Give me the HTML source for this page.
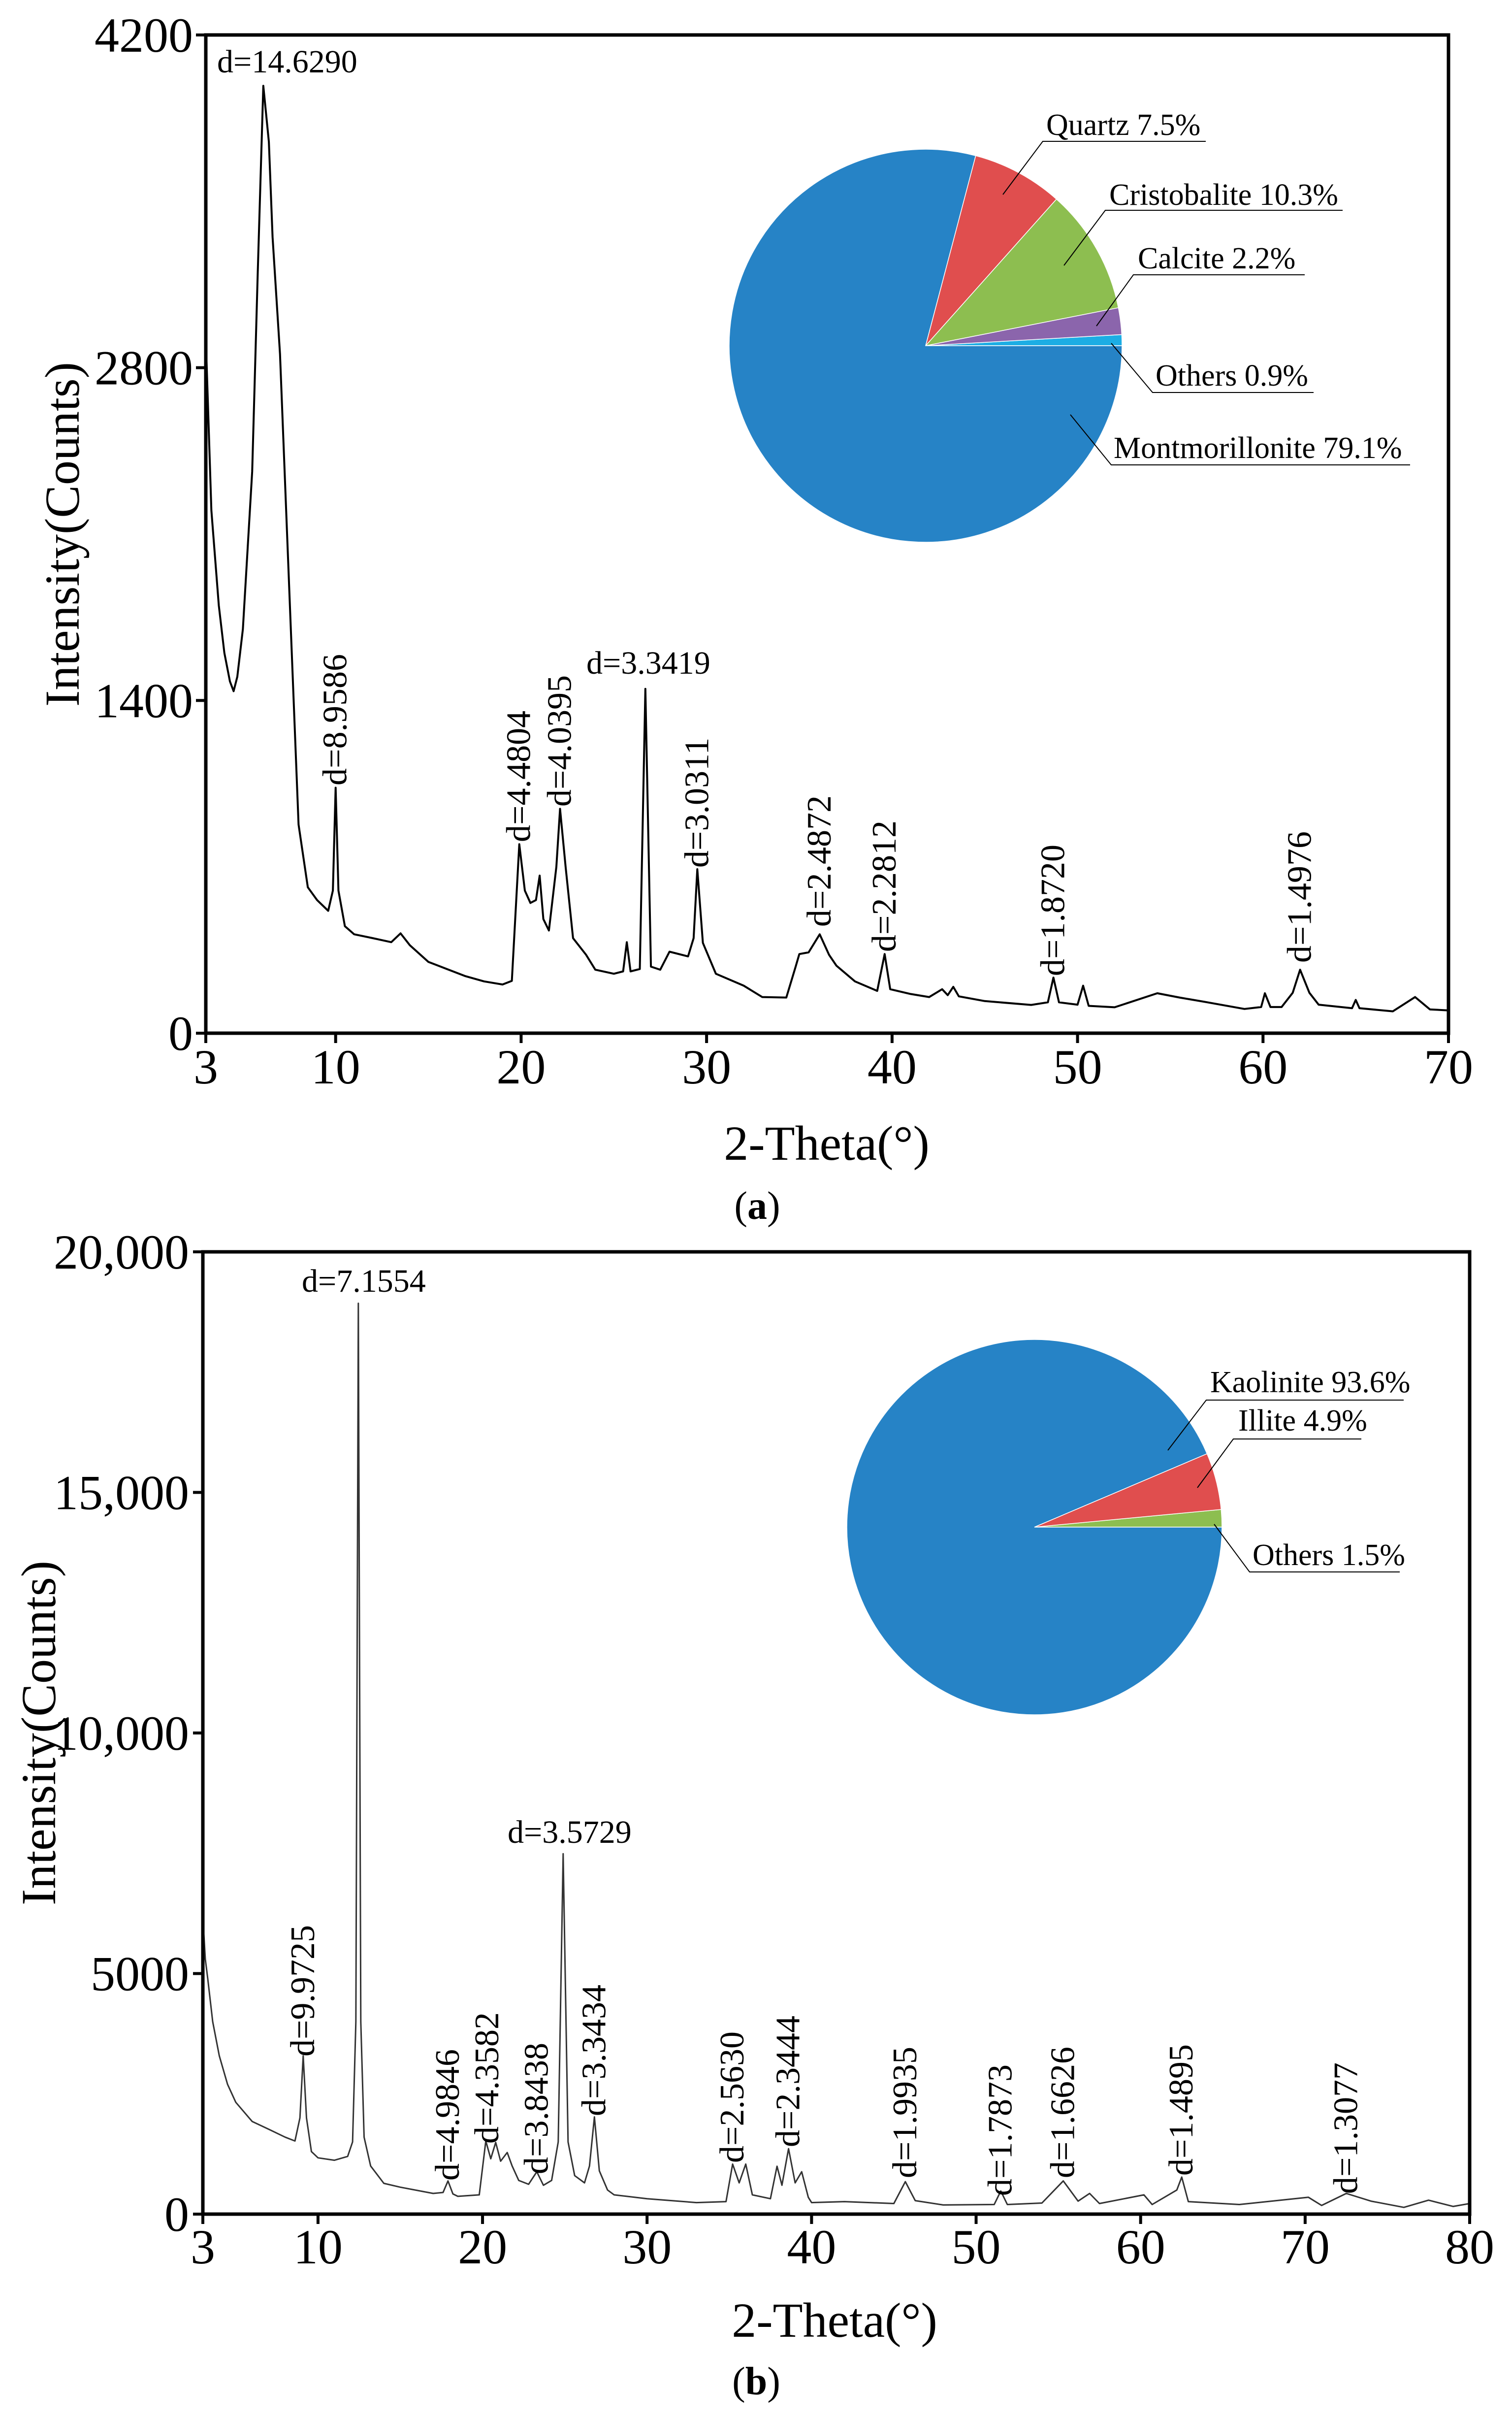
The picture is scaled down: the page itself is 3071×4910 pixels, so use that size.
<!DOCTYPE html>
<html><head><meta charset="utf-8"><style>
html,body{margin:0;padding:0;background:#fff}
svg{display:block}
text{font-family:"Liberation Serif",serif;fill:#000}
</style></head><body>
<svg id="fig" width="3071" height="4910" viewBox="0 0 3071 4910" xmlns="http://www.w3.org/2000/svg">
<g id="panelA"></g>
<g id="panelB"></g>
</svg>
<script>
// ---------- Panel A data ----------
const thetaA=[3,3.3,3.7,4.0,4.3,4.5,4.7,5.0,5.5,5.8,6.1,6.4,6.6,7.0,7.5,8.0,8.5,9.0,9.6,9.85,10.0,10.15,10.5,11,12,13,13.5,14,15,16,17,18,19,19.5,19.9,20.2,20.5,20.8,21.0,21.2,21.5,21.9,22.1,22.4,22.8,23.5,24,25,25.5,25.7,25.9,26.4,26.7,27.0,27.5,28,29,29.3,29.5,29.8,30.5,32,33,34.3,34.8,35,35.5,36.1,36.6,37,38,39.2,39.6,39.9,41,42,42.7,43,43.3,43.6,45,47.5,48.4,48.7,49,50.0,50.3,50.6,52,54.3,55.5,57,59,59.9,60.1,60.4,61,61.6,62,62.5,63,64.8,65,65.2,67,68.2,69,70];
const countsA=[2924,2200,1800,1600,1480,1439,1500,1700,2363,3200,3986,3750,3350,2858,1868,878,614,560,515,600,1033,600,450,416,400,383,420,370,300,270,240,218,205,220,795,600,548,560,663,480,432,700,944,700,400,330,267,250,260,383,260,270,1449,280,267,343,323,400,690,380,250,200,152,150,280,333,340,416,330,284,218,178,333,185,165,152,185,160,195,155,135,119,130,234,130,120,200,115,109,168,150,130,102,110,168,110,110,170,267,170,120,105,140,105,92,152,100,96];
const xTicksA=[3,10,20,30,40,50,60,70];
const yTicksA=[0,1400,2800,4200];
const yTickLabelsA=["0","1400","2800","4200"];
const peakLabelsA=["d=8.9586","d=4.4804","d=4.0395","d=3.0311","d=2.4872","d=2.2812","d=1.8720","d=1.4976"];
const peakPosA=[10,19.9,22.1,29.5,36.1,39.6,48.7,62];
const peakLabelStartA=[1595,1710,1638,1762,1882,1933,1982,1955];
const pieNamesA=["Others","Calcite","Cristobalite","Quartz","Montmorillonite"];
const pieValuesA=[0.9,2.2,10.3,7.5,79.1];
// ---------- Panel B data ----------
const thetaB=[3,3.15,3.3,3.6,4,4.5,5,6,7,8,8.6,8.9,9.1,9.3,9.6,10,11,11.8,12.1,12.3,12.45,12.6,12.8,13.2,14,15,17,17.6,17.9,18.2,18.5,19.8,20.2,20.5,20.8,21.1,21.5,21.8,22.2,22.8,23.3,23.7,24.2,24.6,24.9,25.2,25.6,26.2,26.5,26.8,27.1,27.6,28,30,33,34.8,35.2,35.6,36.0,36.4,37.5,37.9,38.2,38.6,39.0,39.4,39.8,40,42,45,45.7,46.3,48,51.1,51.5,51.9,54,55.3,56.2,56.9,57.5,60.2,60.7,62.2,62.5,62.9,66,70.2,71,72.5,74,76,77.5,79,80];
const countsB=[6170,5300,4890,4000,3290,2700,2325,1925,1765,1600,1520,2000,3290,2000,1300,1170,1120,1200,1500,4000,18930,4000,1600,1000,640,560,430,450,690,420,370,400,1520,1150,1490,1100,1280,1000,700,620,880,600,700,1500,7490,1500,800,650,1000,2020,900,500,400,320,240,260,1040,650,1040,400,320,995,600,1360,650,880,350,240,260,220,675,280,190,200,480,200,230,690,270,430,220,400,200,500,770,260,200,350,180,430,270,140,290,160,220];
const xTicksB=[3,10,20,30,40,50,60,70,80];
const yTicksB=[0,5000,10000,15000,20000];
const yTickLabelsB=["0","5000","10,000","15,000","20,000"];
const peakLabelsB=["d=9.9725","d=4.9846","d=4.3582","d=3.8438","d=3.3434","d=2.5630","d=2.3444","d=1.9935","d=1.7873","d=1.6626","d=1.4895","d=1.3077"];
const peakPosB=[9.1,17.9,20.3,23.3,26.8,35.2,38.6,45.7,51.5,55.3,62.5,72.5];
const peakLabelStartB=[4176,4428,4353,4415,4297,4392,4360,4423,4459,4423,4418,4455];
const pieNamesB=["Others","Illite","Kaolinite"];
const pieValuesB=[1.5,4.9,93.6];

const NS="http://www.w3.org/2000/svg";
function mk(parent,tag,attrs,txt){const e=document.createElementNS(NS,tag);for(const k in attrs)e.setAttribute(k,attrs[k]);if(txt!==undefined)e.textContent=txt;parent.appendChild(e);return e;}

function panel(g,cfg){
  const sx=v=>cfg.L+(v-cfg.x0)/(cfg.x1-cfg.x0)*(cfg.R-cfg.L);
  const sy=v=>cfg.B-(v-cfg.y0)/(cfg.y1-cfg.y0)*(cfg.B-cfg.T);
  // curve
  let d="";
  cfg.theta.forEach((t,i)=>{d+=(i?"L":"M")+sx(t).toFixed(1)+","+sy(cfg.counts[i]).toFixed(1);});
  const c=mk(g,"path",{d:d,fill:"none",stroke:cfg.curveColor,"stroke-width":cfg.curveW,"stroke-linejoin":"round"});
  
  
  // frame
  const f=mk(g,"rect",{x:cfg.L,y:cfg.T,width:cfg.R-cfg.L,height:cfg.B-cfg.T,fill:"none",stroke:"#000","stroke-width":7});
  
  
  // x ticks
  cfg.xTicks.forEach(v=>{
    const x=sx(v);
    const tk=mk(g,"line",{x1:x,x2:x,y1:cfg.B,y2:cfg.B+20,stroke:"#000","stroke-width":6});
    
    
    const tl=mk(g,"text",{x:x,y:cfg.xLabY,"font-size":100,"text-anchor":"middle"},String(v));
    
    
  });
  cfg.yTicks.forEach((v,i)=>{
    const y=sy(v);
    const tk=mk(g,"line",{x1:cfg.L-20,x2:cfg.L,y1:y,y2:y,stroke:"#000","stroke-width":6});
    
    
    const tl=mk(g,"text",{x:cfg.yLabX,y:y+34,"font-size":100,"text-anchor":"end"},cfg.yTickLabels[i]);
    
    
  });
  const xt=mk(g,"text",{x:cfg.xTitleX,y:cfg.xTitleY,"font-size":100,"text-anchor":"middle"},"2-Theta(°)");
  
  
  const yt=mk(g,"text",{x:0,y:0,"font-size":100,"text-anchor":"middle",transform:`translate(${cfg.yTitleX},${cfg.yTitleY}) rotate(-90)`},"Intensity(Counts)");
  
  
  const cap=mk(g,"text",{x:cfg.capX,y:cfg.capY,"font-size":80,"text-anchor":"middle"},"");
  mk(cap,"tspan",{},"(");mk(cap,"tspan",{"font-weight":"bold"},cfg.cap);mk(cap,"tspan",{},")");
  
  
  // peak labels
  cfg.peakLabels.forEach((s,i)=>{
    const x=sx(cfg.peakPos[i])+22, y=cfg.peakStart[i];
    const t=mk(g,"text",{x:0,y:0,"font-size":70,transform:`translate(${x.toFixed(1)},${y}) rotate(-90)`},s);
    
    
  });
  cfg.hLabels.forEach(h=>{
    const t=mk(g,"text",{x:h[1],y:h[2],"font-size":66},h[0]);
    
    
  });
  // pie
  const total=cfg.pieValues.reduce((a,b)=>a+b,0);
  let a0=0;
  cfg.pieValues.forEach((v,i)=>{
    const a1=a0+v/total*2*Math.PI;
    const x0=cfg.cx+cfg.r*Math.cos(a0), y0=cfg.cy-cfg.r*Math.sin(a0);
    const x1=cfg.cx+cfg.r*Math.cos(a1), y1=cfg.cy-cfg.r*Math.sin(a1);
    const large=(a1-a0)>Math.PI?1:0;
    const p=mk(g,"path",{d:`M${cfg.cx},${cfg.cy}L${x0.toFixed(1)},${y0.toFixed(1)}A${cfg.r},${cfg.r} 0 ${large} 0 ${x1.toFixed(1)},${y1.toFixed(1)}Z`,fill:cfg.pieColors[i],stroke:"#fff","stroke-width":1.5});
    
    
    a0=a1;
  });
  cfg.pieLabels.forEach(l=>{
    const ln=mk(g,"polyline",{points:`${l.lx},${l.ly} ${l.ux1},${l.uy} ${l.ux2},${l.uy}`,fill:"none",stroke:"#000","stroke-width":2});
    
    
    const t=mk(g,"text",{x:l.tx,y:l.ty,"font-size":62},l.text);
    
    
  });
}

panel(document.getElementById('panelA'),{
  L:418,R:2942,T:71,B:2098,x0:3,x1:70,y0:0,y1:4200,theta:thetaA,counts:countsA,curveColor:"#000",curveW:4,
  xTicks:xTicksA,yTicks:yTicksA,yTickLabels:yTickLabelsA,xLabY:2200,yLabX:392,
  xTitleX:1679,xTitleY:2355,yTitleX:160,yTitleY:1085,capX:1538,capY:2475,cap:"a",
  peakLabels:peakLabelsA,peakPos:peakPosA,peakStart:peakLabelStartA,
  hLabels:[["d=14.6290",441,147],["d=3.3419",1191,1368]],
  cx:1880,cy:702,r:399,pieValues:pieValuesA,pieNames:pieNamesA,
  pieColors:["#1CADE4","#8B65AC","#8DBE50","#E04E4E","#2683C6"],
  pieLabels:[
    {text:"Quartz 7.5%",tx:2125,ty:274,lx:2037,ly:395,ux1:2118,ux2:2449,uy:287},
    {text:"Cristobalite 10.3%",tx:2253,ty:416,lx:2161,ly:539,ux1:2245,ux2:2727,uy:427},
    {text:"Calcite 2.2%",tx:2311,ty:545,lx:2227,ly:662,ux1:2302,ux2:2650,uy:558},
    {text:"Others 0.9%",tx:2347,ty:783,lx:2257,ly:697,ux1:2341,ux2:2668,uy:797},
    {text:"Montmorillonite 79.1%",tx:2262,ty:930,lx:2174,ly:842,ux1:2257,ux2:2864,uy:944}
  ]
});

panel(document.getElementById('panelB'),{
  L:412,R:2985,T:2542,B:4496,x0:3,x1:80,y0:0,y1:20000,theta:thetaB,counts:countsB,curveColor:"#333",curveW:3,
  xTicks:xTicksB,yTicks:yTicksB,yTickLabels:yTickLabelsB,xLabY:4596,yLabX:384,
  xTitleX:1695,xTitleY:4745,yTitleX:112,yTitleY:3519,capX:1536,capY:4862,cap:"b",
  peakLabels:peakLabelsB,peakPos:peakPosB,peakStart:peakLabelStartB,
  hLabels:[["d=7.1554",613,2623],["d=3.5729",1031,3742]],
  cx:2101,cy:3101,r:381,pieValues:pieValuesB,pieNames:pieNamesB,
  pieColors:["#8DBE50","#E04E4E","#2683C6"],
  pieLabels:[
    {text:"Kaolinite 93.6%",tx:2458,ty:2827,lx:2372,ly:2945,ux1:2450,ux2:2851,uy:2843},
    {text:"Illite 4.9%",tx:2515,ty:2905,lx:2432,ly:3021,ux1:2505,ux2:2765,uy:2922},
    {text:"Others 1.5%",tx:2544,ty:3178,lx:2466,ly:3095,ux1:2538,ux2:2843,uy:3192}
  ]
});
</script>
</body></html>
